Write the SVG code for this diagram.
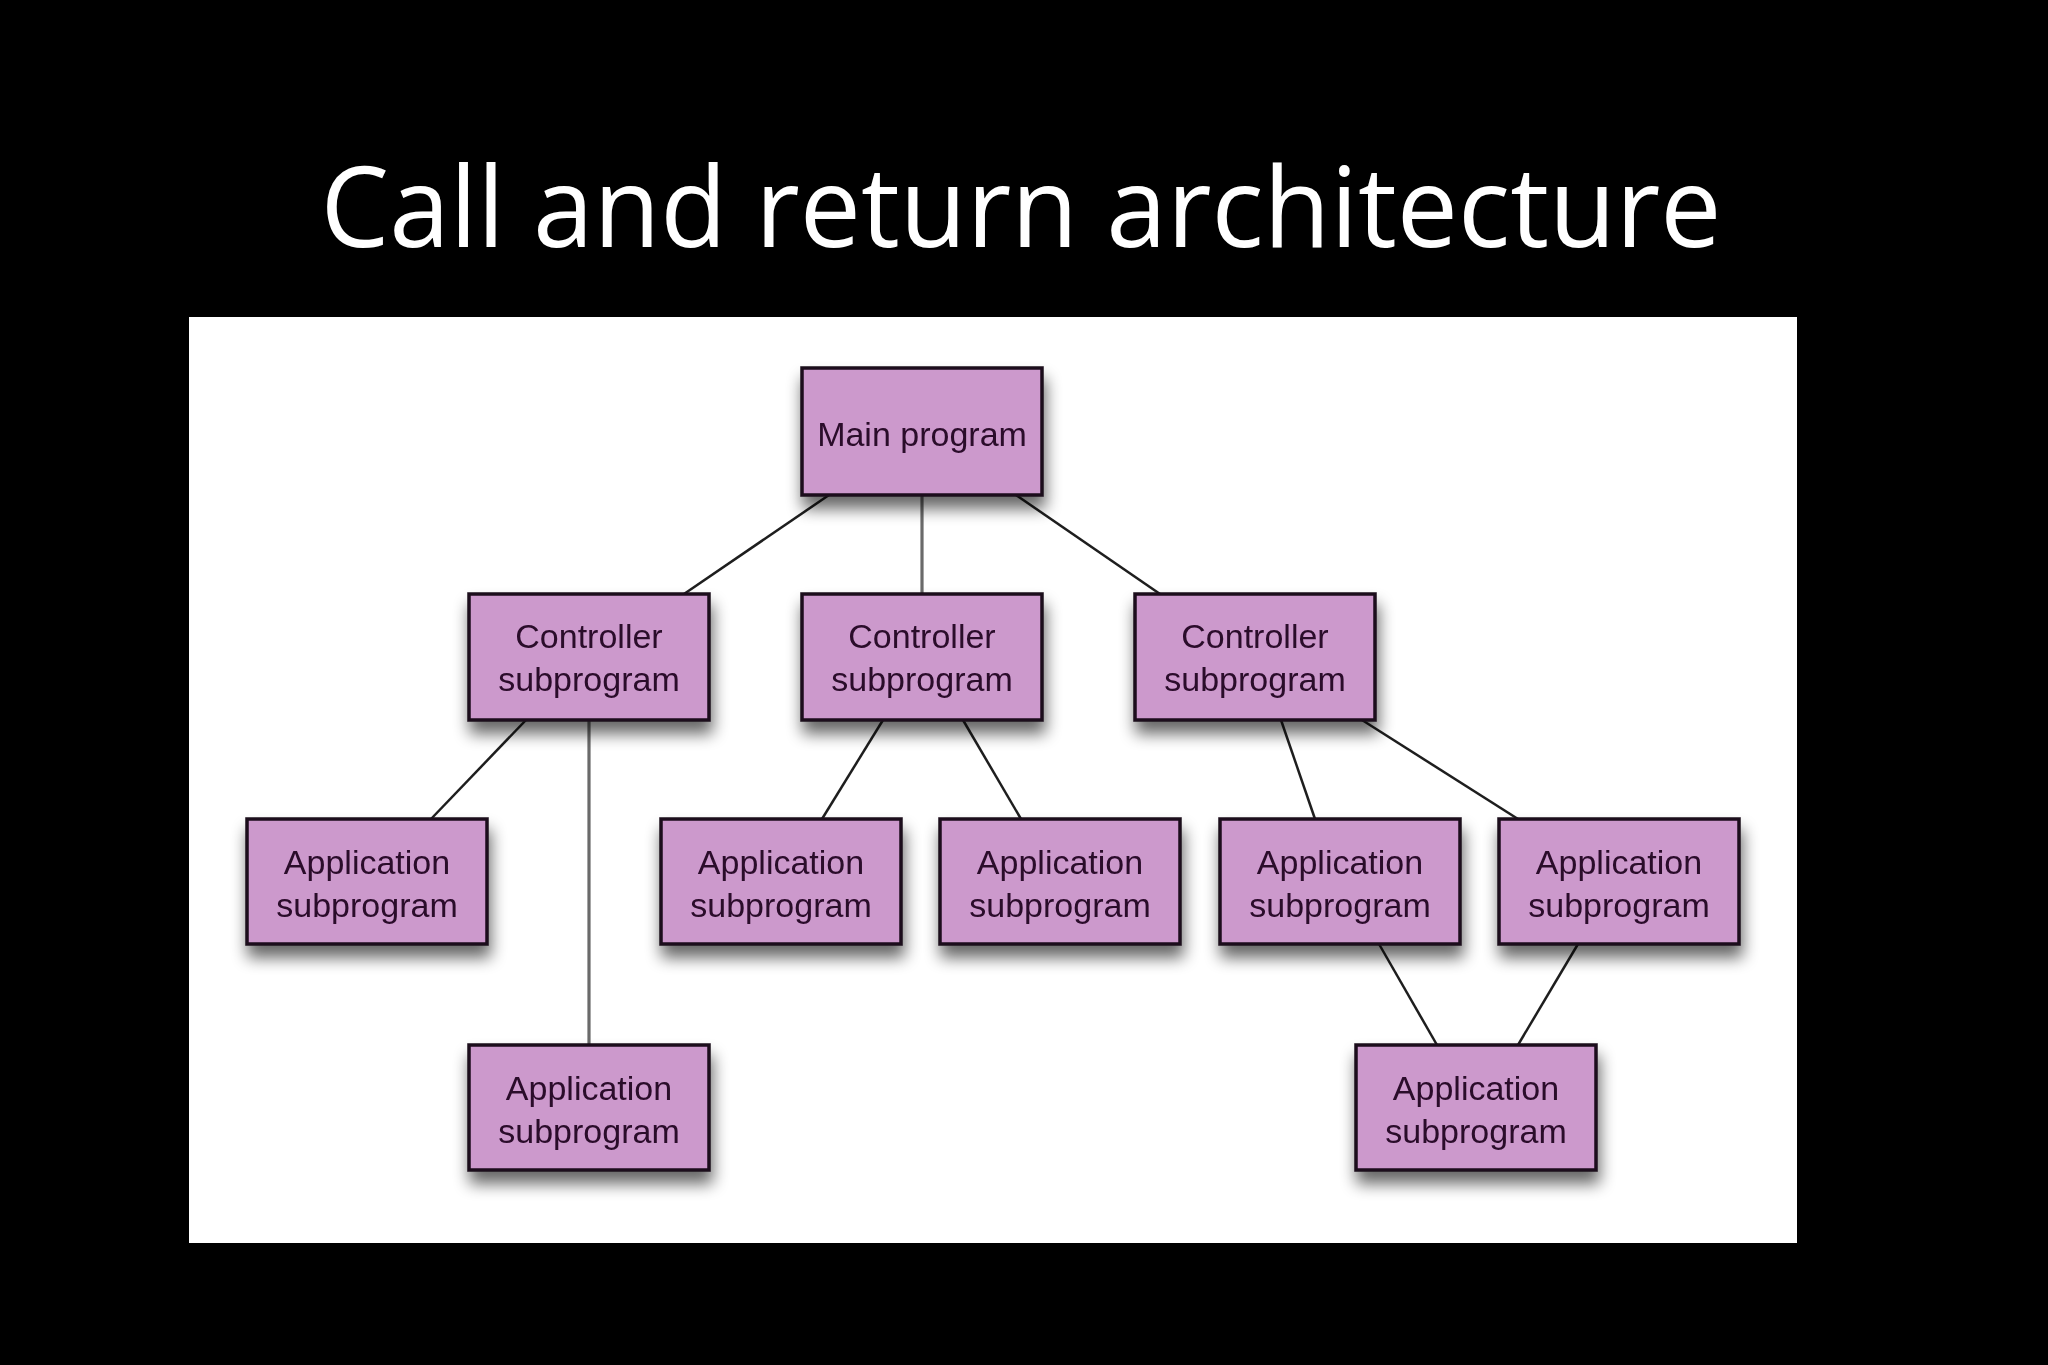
<svg xmlns="http://www.w3.org/2000/svg" width="2048" height="1365" viewBox="0 0 2048 1365">
<defs>
<filter id="sh" x="-20%" y="-20%" width="140%" height="170%">
<feGaussianBlur in="SourceAlpha" stdDeviation="8"/>
<feOffset dx="2" dy="12" result="b"/>
<feComponentTransfer in="b" result="c"><feFuncA type="linear" slope="0.6"/></feComponentTransfer>
<feMerge><feMergeNode in="c"/><feMergeNode in="SourceGraphic"/></feMerge>
</filter>
</defs>
<style>
.box{fill:#cc99cc;stroke:#1a0a1a;stroke-width:3.5}
.lbl{font-family:"Liberation Sans",Arial,sans-serif;font-size:34px;fill:#2a0a2a;text-anchor:middle}
.ln{stroke:#1e1e1e;stroke-width:2.5;fill:none}
.lv{stroke:#6a6a6a;stroke-width:3.2;fill:none}
</style>
<rect x="0" y="0" width="2048" height="1365" fill="#000"/>
<text x="1021" y="247" font-family="'Open Sans',Calibri,sans-serif" font-size="112" fill="#fff" text-anchor="middle" textLength="1401" lengthAdjust="spacingAndGlyphs">Call and return architecture</text>
<rect x="189" y="317" width="1608" height="926" fill="#fff"/>
<g id="connectors">
<line class="ln" x1="829" y1="495" x2="684" y2="594"/>
<line class="lv" x1="922" y1="495" x2="922" y2="594"/>
<line class="ln" x1="1016" y1="495" x2="1160" y2="594"/>
<line class="ln" x1="526" y1="720" x2="431" y2="819"/>
<line class="lv" x1="589" y1="720" x2="589" y2="1045"/>
<line class="ln" x1="883" y1="720" x2="822" y2="819"/>
<line class="ln" x1="963" y1="720" x2="1021" y2="819"/>
<line class="ln" x1="1281" y1="720" x2="1315" y2="819"/>
<line class="ln" x1="1362" y1="720" x2="1518" y2="819"/>
<line class="ln" x1="1379" y1="944" x2="1437" y2="1045"/>
<line class="ln" x1="1578" y1="944" x2="1518" y2="1045"/>
</g>
<g id="main" filter="url(#sh)"><rect class="box" x="802" y="368" width="240" height="127"/><text class="lbl" x="922" y="446">Main program</text></g>
<g id="ctrl1" filter="url(#sh)"><rect class="box" x="469" y="594" width="240" height="126"/><text class="lbl" x="589" y="648">Controller</text><text class="lbl" x="589" y="691">subprogram</text></g>
<g id="ctrl2" filter="url(#sh)"><rect class="box" x="802" y="594" width="240" height="126"/><text class="lbl" x="922" y="648">Controller</text><text class="lbl" x="922" y="691">subprogram</text></g>
<g id="ctrl3" filter="url(#sh)"><rect class="box" x="1135" y="594" width="240" height="126"/><text class="lbl" x="1255" y="648">Controller</text><text class="lbl" x="1255" y="691">subprogram</text></g>
<g id="app1" filter="url(#sh)"><rect class="box" x="247" y="819" width="240" height="125"/><text class="lbl" x="367" y="874">Application</text><text class="lbl" x="367" y="917">subprogram</text></g>
<g id="app2" filter="url(#sh)"><rect class="box" x="661" y="819" width="240" height="125"/><text class="lbl" x="781" y="874">Application</text><text class="lbl" x="781" y="917">subprogram</text></g>
<g id="app3" filter="url(#sh)"><rect class="box" x="940" y="819" width="240" height="125"/><text class="lbl" x="1060" y="874">Application</text><text class="lbl" x="1060" y="917">subprogram</text></g>
<g id="app4" filter="url(#sh)"><rect class="box" x="1220" y="819" width="240" height="125"/><text class="lbl" x="1340" y="874">Application</text><text class="lbl" x="1340" y="917">subprogram</text></g>
<g id="app5" filter="url(#sh)"><rect class="box" x="1499" y="819" width="240" height="125"/><text class="lbl" x="1619" y="874">Application</text><text class="lbl" x="1619" y="917">subprogram</text></g>
<g id="app6" filter="url(#sh)"><rect class="box" x="469" y="1045" width="240" height="125"/><text class="lbl" x="589" y="1100">Application</text><text class="lbl" x="589" y="1143">subprogram</text></g>
<g id="app7" filter="url(#sh)"><rect class="box" x="1356" y="1045" width="240" height="125"/><text class="lbl" x="1476" y="1100">Application</text><text class="lbl" x="1476" y="1143">subprogram</text></g>
</svg>
